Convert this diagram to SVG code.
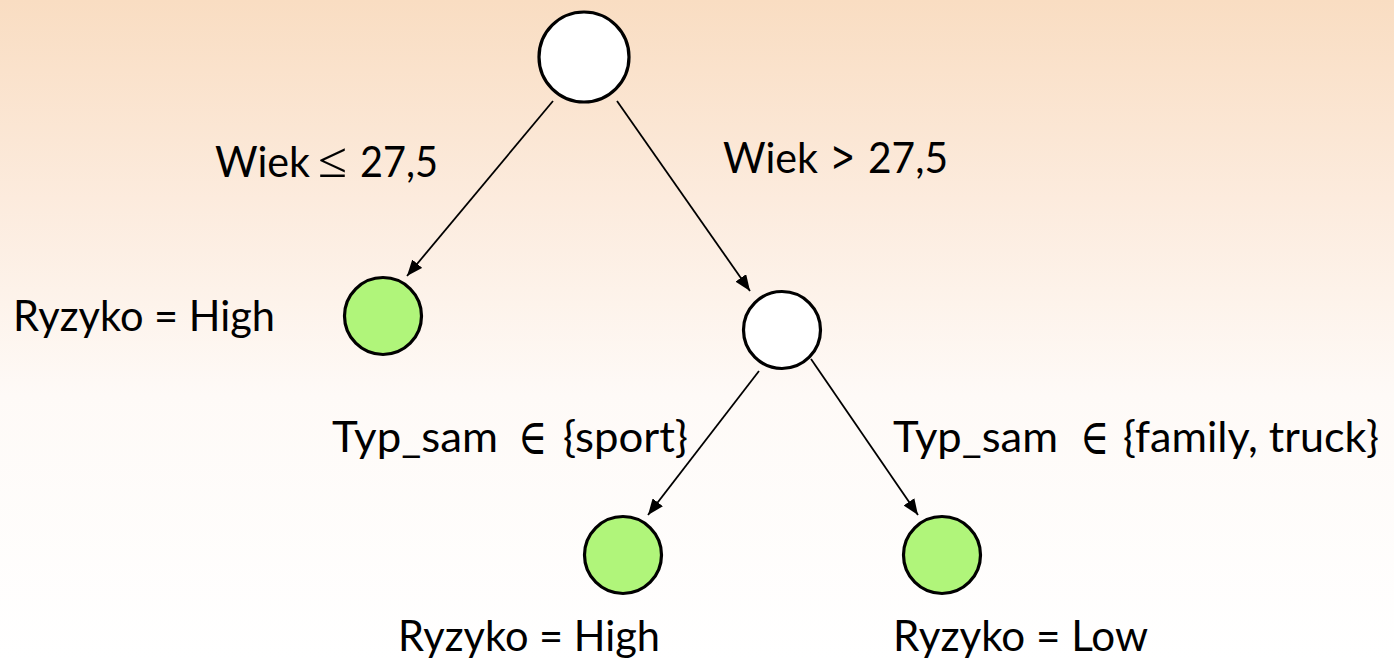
<svg xmlns="http://www.w3.org/2000/svg" width="1394" height="659" viewBox="0 0 1394 659">
  <defs>
    <linearGradient id="bg" x1="0" y1="0" x2="0" y2="1">
      <stop offset="0" stop-color="#F9DDC2"/>
      <stop offset="0.3" stop-color="#FCEBDD"/>
      <stop offset="0.6" stop-color="#FEFAF7"/>
      <stop offset="1" stop-color="#FFFFFF"/>
    </linearGradient>
    <marker id="arrow" markerUnits="userSpaceOnUse" markerWidth="17" markerHeight="13" refX="16" refY="6.5" orient="auto">
      <path d="M0,0 L16,6.5 L0,13 z" fill="#000"/>
    </marker>
  </defs>
  <style>
    .split { fill: #FFFFFF; stroke: #000; stroke-width: 3.2; }
    .leaf { fill: #B0F57A; stroke: #000; stroke-width: 3.2; }
    .edge { stroke: #000; stroke-width: 1.8; fill: none; marker-end: url(#arrow); }
    text { font-family: Lato, "Open Sans", "Liberation Sans", sans-serif; font-size: 42px; fill: #000; }
    text.sym { font-family: "DejaVu Serif", "Liberation Serif", serif; font-size: 50px; }
    text.le { font-family: "Liberation Serif", "DejaVu Serif", serif; font-size: 50px; }
    text.op { font-family: "DejaVu Sans", "Liberation Sans", sans-serif; font-size: 42px; }
  </style>

  <rect x="0" y="0" width="1394" height="659" fill="url(#bg)"/>

  <!-- tree edges -->
  <g id="connectors">
    <line class="edge" x1="553" y1="101" x2="407" y2="276"/>
    <line class="edge" x1="617" y1="101" x2="750" y2="291"/>
    <line class="edge" x1="759" y1="371" x2="648" y2="515"/>
    <line class="edge" x1="811" y1="359" x2="918" y2="515"/>
  </g>

  <!-- edge conditions (operator glyphs set in a math-capable face) -->
  <g id="edge-labels">
    <text x="215" y="177" textLength="95" lengthAdjust="spacingAndGlyphs">Wiek</text>
    <text class="le" x="318" y="177" textLength="29" lengthAdjust="spacingAndGlyphs">≤</text>
    <text x="360" y="177" textLength="78" lengthAdjust="spacingAndGlyphs">27,5</text>

    <text x="723" y="173" textLength="95" lengthAdjust="spacingAndGlyphs">Wiek</text>
    <text class="op" x="831" y="171" textLength="24" lengthAdjust="spacingAndGlyphs">&gt;</text>
    <text x="868" y="173" textLength="80" lengthAdjust="spacingAndGlyphs">27,5</text>

    <text x="332" y="452" textLength="166" lengthAdjust="spacingAndGlyphs">Typ_sam</text>
    <text class="sym" x="518" y="454" textLength="29" lengthAdjust="spacingAndGlyphs">∈</text>
    <text x="563" y="452" textLength="125" lengthAdjust="spacingAndGlyphs">{sport}</text>

    <text x="893" y="452" textLength="165" lengthAdjust="spacingAndGlyphs">Typ_sam</text>
    <text class="sym" x="1080" y="454" textLength="29" lengthAdjust="spacingAndGlyphs">∈</text>
    <text x="1123" y="452" textLength="256" lengthAdjust="spacingAndGlyphs">{family, truck}</text>
  </g>

  <g id="root">
    <circle class="split" cx="584" cy="57" r="45"/>
  </g>

  <g id="leaf-young">
    <circle class="leaf" cx="383" cy="316" r="38.5"/>
    <text x="13" y="331" textLength="262" lengthAdjust="spacingAndGlyphs">Ryzyko = High</text>
  </g>

  <g id="split-type">
    <circle class="split" cx="782" cy="330" r="38.5"/>
  </g>

  <g id="leaf-sport">
    <circle class="leaf" cx="623" cy="555" r="38.5"/>
    <text x="398" y="651" textLength="262" lengthAdjust="spacingAndGlyphs">Ryzyko = High</text>
  </g>

  <g id="leaf-other">
    <circle class="leaf" cx="942" cy="555" r="38.5"/>
    <text x="893" y="651" textLength="255" lengthAdjust="spacingAndGlyphs">Ryzyko = Low</text>
  </g>
</svg>
